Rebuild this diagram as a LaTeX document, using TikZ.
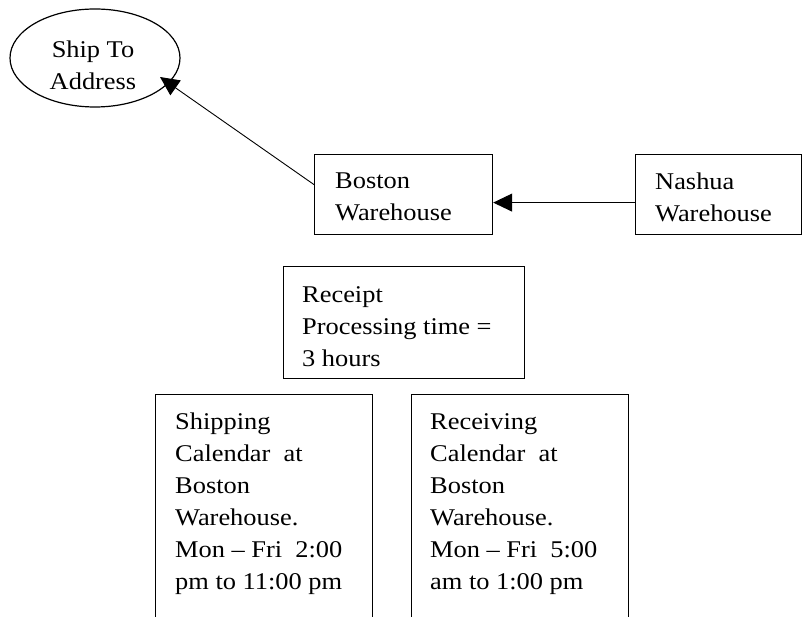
\documentclass[tikz,border=0pt]{standalone}
\usepackage{fontspec}
\setmainfont{Liberation Serif}[FakeStretch=1.1]
\usetikzlibrary{arrows.meta,shapes.geometric}
\begin{document}
\begin{tikzpicture}[x=1pt,y=1pt,
  boxnode/.style={draw, line width=1.2pt, rectangle, inner sep=0pt, anchor=north west},
  txt/.style={inner sep=0pt, anchor=north west, align=left, font=\fontsize{24}{32}\selectfont},
  arr/.style={line width=0.9pt, -{Triangle[length=19pt,width=18pt]}}]
\useasboundingbox (0,0) rectangle (803,616);
\clip (0,0) rectangle (803,616);
% ellipse
\node[draw, ellipse, line width=1.2pt, minimum width=170pt, minimum height=98pt, inner sep=0pt] (ship) at (95,558) {};
\node[txt, anchor=north, align=center] (shipT) at (93,575) {Ship To\\Address};
% Boston
\node[boxnode, minimum width=178pt, minimum height=80pt] (boston) at (314,462) {};
\node[txt] (bostonT) at (335,443) {Boston\\Warehouse};
% Nashua
\node[boxnode, minimum width=166pt, minimum height=80pt] (nashua) at (635,462) {};
\node[txt] (nashuaT) at (655,443) {Nashua\\Warehouse};
% Receipt
\node[boxnode, minimum width=241pt, minimum height=112pt] (receipt) at (283,350) {};
\node[txt] (receiptT) at (302,330) {Receipt\\Processing time =\\3 hours};
% Shipping calendar
\node[boxnode, minimum width=217pt, minimum height=260pt] (shipcal) at (155,222) {};
\node[txt] (shipcalT) at (175,203) {Shipping\\Calendar\ \ at\\Boston\\Warehouse.\\Mon -- Fri\ \ 2:00\\pm to 11:00 pm};
% Receiving calendar
\node[boxnode, minimum width=217pt, minimum height=260pt] (reccal) at (411,222) {};
\node[txt] (reccalT) at (430,203) {Receiving\\Calendar\ \ at\\Boston\\Warehouse.\\Mon -- Fri\ \ 5:00\\am to 1:00 pm};
% connectors
\draw[arr] ([yshift=-8pt]nashua.west) -- ([yshift=-8pt]boston.east);
\draw[arr] ([yshift=10pt]boston.west) -- ([shift={(65pt,-19pt)}]ship.center);
\end{tikzpicture}
\end{document}
